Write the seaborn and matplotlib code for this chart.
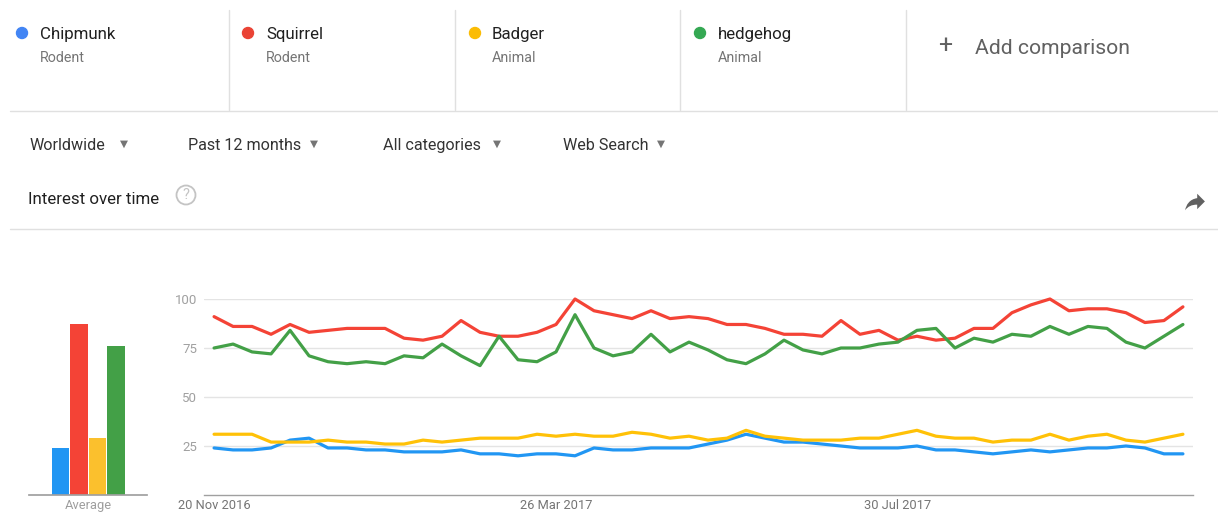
import numpy as np
import pandas as pd
import matplotlib
matplotlib.use("Agg")
import matplotlib.pyplot as plt
from matplotlib.lines import Line2D
from matplotlib.patches import Ellipse, PathPatch
from matplotlib.path import Path
import seaborn as sns

# ---------------- data ----------------
terms = ["Chipmunk", "Squirrel", "Badger", "hedgehog"]
subtitles = ["Rodent", "Rodent", "Animal", "Animal"]

chipmunk = [24, 23, 23, 24, 28, 29, 24, 24, 23, 23, 22, 22, 22, 23, 21, 21, 20, 21, 21, 20,
            24, 23, 23, 24, 24, 24, 26, 28, 31, 29, 27, 27, 26, 25, 24, 24, 24, 25, 23, 23,
            22, 21, 22, 23, 22, 23, 24, 24, 25, 24, 21, 21]
squirrel = [91, 86, 86, 82, 87, 83, 84, 85, 85, 85, 80, 79, 81, 89, 83, 81, 81, 83, 87, 100,
            94, 92, 90, 94, 90, 91, 90, 87, 87, 85, 82, 82, 81, 89, 82, 84, 79, 81, 79, 80,
            85, 85, 93, 97, 100, 94, 95, 95, 93, 88, 89, 96]
badger = [31, 31, 31, 27, 27, 27, 28, 27, 27, 26, 26, 28, 27, 28, 29, 29, 29, 31, 30, 31,
          30, 30, 32, 31, 29, 30, 28, 29, 33, 30, 29, 28, 28, 28, 29, 29, 31, 33, 30, 29,
          29, 27, 28, 28, 31, 28, 30, 31, 28, 27, 29, 31]
hedgehog = [75, 77, 73, 72, 84, 71, 68, 67, 68, 67, 71, 70, 77, 71, 66, 81, 69, 68, 73, 92,
            75, 71, 73, 82, 73, 78, 74, 69, 67, 72, 79, 74, 72, 75, 75, 77, 78, 84, 85, 75,
            80, 78, 82, 81, 86, 82, 86, 85, 78, 75, 81, 87]
averages = [24, 87, 29, 76]

date_tick_index = [0, 18, 36]
date_tick_labels = ["20 Nov 2016", "26 Mar 2017", "30 Jul 2017"]
y_ticks = [25, 50, 75, 100]

filters = ["Worldwide", "Past 12 months", "All categories", "Web Search"]

line_colors = ["#2196F3", "#F44336", "#FFC107", "#43A047"]
bar_colors = ["#2196F3", "#F44336", "#FBC02D", "#43A047"]
dot_colors = ["#4285F4", "#EA4335", "#FBBC04", "#34A853"]

# ---------------- setup ----------------
sns.set_theme(style="white")
plt.rcParams["font.family"] = ["Roboto", "DejaVu Sans"]

W, H = 1218, 512
fig = plt.figure(figsize=(W / 100, H / 100), dpi=100)
fig.patch.set_facecolor("white")


def fx(x):
    return x / W


def fy(y):
    return 1 - y / H


def hline(y, x0, x1, color="#e0e0e0", lw=1.0):
    fig.add_artist(Line2D([fx(x0), fx(x1)], [fy(y), fy(y)], color=color, lw=lw,
                          transform=fig.transFigure))


def vline(x, y0, y1, color="#e0e0e0", lw=1.0):
    fig.add_artist(Line2D([fx(x), fx(x)], [fy(y0), fy(y1)], color=color, lw=lw,
                          transform=fig.transFigure))


def circle(x, y, r, **kw):
    fig.add_artist(Ellipse((fx(x), fy(y)), 2 * r / W, 2 * r / H,
                           transform=fig.transFigure, **kw))


# ---------------- header ----------------
term_x = [40, 266, 492, 718]
dot_x = [22, 248, 475, 700]
for t, s, tx, dx, dc in zip(terms, subtitles, term_x, dot_x, dot_colors):
    circle(dx, 33, 5.5, color=dc)
    fig.text(fx(tx), fy(38.5), t, fontsize=12.2, color="#212121", va="baseline", ha="left")
    fig.text(fx(tx), fy(62.5), s, fontsize=10.3, color="#757575", va="baseline", ha="left")

for x in [229, 455, 680, 906]:
    vline(x, 10, 110)
hline(111, 10, 1218)
fig.text(fx(945), fy(46), "+", fontsize=18, color="#616161", va="center", ha="center")
fig.text(fx(975), fy(54), "Add comparison", fontsize=15.2, color="#616161",
         va="baseline", ha="left")

filter_x = [30, 188, 383, 563]
tri_x = [124, 314, 497, 661]
for f, x, tx in zip(filters, filter_x, tri_x):
    fig.text(fx(x), fy(150), f, fontsize=11.6, color="#333333", va="baseline", ha="left")
    fig.text(fx(tx), fy(144), "\u25BC", fontsize=7.5, color="#757575", va="center",
             ha="center", family="DejaVu Sans")

fig.text(fx(28), fy(204.5), "Interest over time", fontsize=12.2, color="#212121",
         va="baseline", ha="left")
circle(186, 195, 9.5, facecolor="none", edgecolor="#c4c4c4", lw=1.3)
fig.text(fx(186), fy(195), "?", fontsize=10.5, color="#c4c4c4", va="center", ha="center")

# share (forward) icon
s = 1.1
icon = [(14, 9), (14, 5), (21, 12), (14, 19), (14, 14.9),
        (9, 14.9), (5.5, 16.5), (3, 20),
        (4, 15), (7, 10), (14, 9), (14, 9)]
codes = [Path.MOVETO, Path.LINETO, Path.LINETO, Path.LINETO, Path.LINETO,
         Path.CURVE4, Path.CURVE4, Path.CURVE4,
         Path.CURVE4, Path.CURVE4, Path.CURVE4, Path.CLOSEPOLY]
verts = [(fx(1195 + (ix - 12) * s), fy(202 + (iy - 12.5) * s)) for ix, iy in icon]
fig.add_artist(PathPatch(Path(verts, codes), facecolor="#616161", edgecolor="none",
                         transform=fig.transFigure))
hline(229, 10, 1218)

# ---------------- line chart ----------------
weeks = np.arange(len(chipmunk))
df = pd.DataFrame({
    "week": np.tile(weeks, 4),
    "value": np.concatenate([chipmunk, squirrel, badger, hedgehog]),
    "term": np.repeat(terms, len(weeks)),
})

ax = fig.add_axes([fx(204), fy(495), (1193 - 204) / W, (495 - 299) / H])
sns.lineplot(data=df, x="week", y="value", hue="term", hue_order=terms,
             palette=dict(zip(terms, line_colors)), linewidth=2.3, legend=False,
             ax=ax, zorder=3)
for ln in ax.lines:
    ln.set_clip_on(False)
    ln.set_solid_joinstyle("round")
ax.set_xlim(-0.53, len(weeks) - 1 + 0.53)
ax.set_ylim(0, 100)
ax.set_yticks(y_ticks)
ax.set_yticklabels([str(v) for v in y_ticks])
ax.set_xticks(date_tick_index)
ax.set_xticklabels(date_tick_labels)
for v in y_ticks:
    ax.axhline(v, color="#e4e4e4", lw=1.0, zorder=1)
for sp in ["top", "right", "left"]:
    ax.spines[sp].set_visible(False)
ax.spines["bottom"].set_color("#a0a0a0")
ax.spines["bottom"].set_linewidth(1.0)
ax.tick_params(axis="y", length=0, pad=5, labelsize=9.5, labelcolor="#a0a0a0")
ax.tick_params(axis="x", length=0, pad=3, labelsize=9.3, labelcolor="#757575")
ax.set_xlabel("")
ax.set_ylabel("")
ax.set_facecolor("none")

# ---------------- average bars ----------------
bx = fig.add_axes([fx(29), fy(495), (147 - 29) / W, (495 - 299) / H])
bdf = pd.DataFrame({"term": terms, "avg": averages})
sns.barplot(data=bdf, x="term", y="avg", hue="term", hue_order=terms, order=terms,
            palette=dict(zip(terms, bar_colors)), width=0.94, legend=False, ax=bx,
            saturation=1.0, edgecolor="none")
bx.set_xlim(-1.70, 4.68)
bx.set_ylim(0, 100)
bx.set_xticks([])
bx.set_yticks([])
bx.set_xlabel("")
bx.set_ylabel("")
for sp in ["top", "right", "left"]:
    bx.spines[sp].set_visible(False)
bx.spines["bottom"].set_color("#a0a0a0")
bx.set_facecolor("none")
fig.text(fx(88), fy(506), "Average", fontsize=9.3, color="#9e9e9e", va="center",
         ha="center")

fig.savefig("out.png", dpi=100, facecolor="white")
